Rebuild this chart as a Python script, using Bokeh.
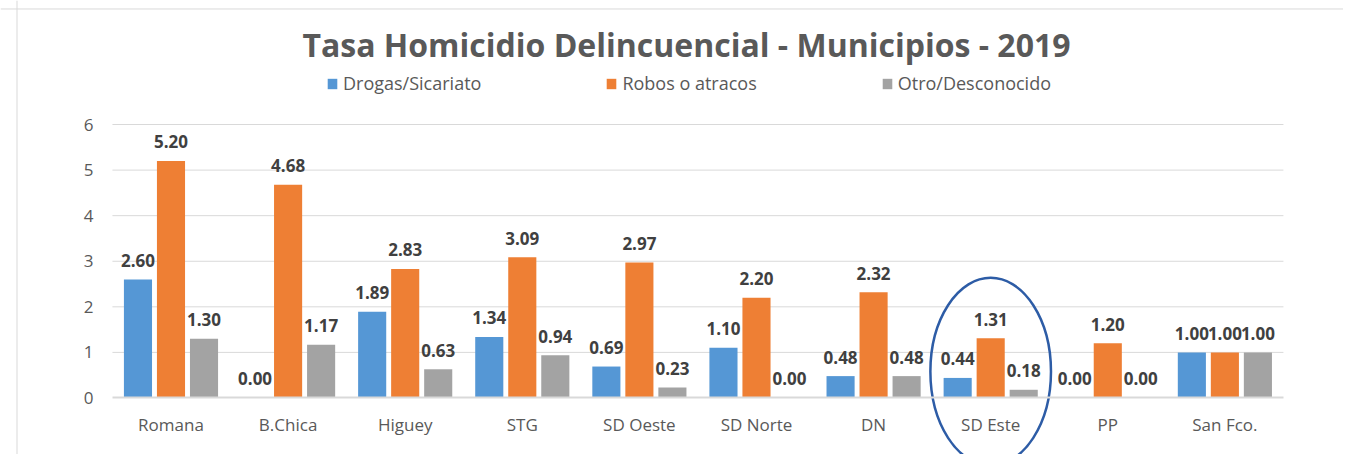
from bokeh.plotting import figure
from bokeh.models import (ColumnDataSource, LinearAxis, FixedTicker, Range1d, Legend,
                          LegendItem, Label, Span)
from bokeh.transform import dodge
from bokeh.core.properties import value
from bokeh.embed import file_html
from bokeh.resources import INLINE

# ---- data ----
municipios = ["Romana", "B.Chica", "Higuey", "STG", "SD Oeste", "SD Norte", "DN", "SD Este", "PP", "San Fco."]
drogas = [2.60, 0.00, 1.89, 1.34, 0.69, 1.10, 0.48, 0.44, 0.00, 1.00]
robos = [5.20, 4.68, 2.83, 3.09, 2.97, 2.20, 2.32, 1.31, 1.20, 1.00]
otro = [1.30, 1.17, 0.63, 0.94, 0.23, 0.00, 0.48, 0.18, 0.00, 1.00]
series_names = ["Drogas/Sicariato", "Robos o atracos", "Otro/Desconocido"]
y_ticks = [0, 1, 2, 3, 4, 5, 6]
title_text = "Tasa Homicidio Delincuencial - Municipios - 2019"
highlight = "SD Este"

FONT = "Open Sans"
TXT = "#595959"
colors = ["#5597d5", "#ee7f34", "#a3a3a3"]

xs = list(range(len(municipios)))
src = ColumnDataSource(dict(
    x=xs,
    drogas=drogas, robos=robos, otro=otro,
    drogas_lbl=["%.2f" % v for v in drogas],
    robos_lbl=["%.2f" % v for v in robos],
    otro_lbl=["%.2f" % v for v in otro],
))

W, H = 1343, 454
p = figure(width=W, height=H, output_backend="svg", toolbar_location=None,
           x_range=Range1d(-1.456, 10.013), y_range=Range1d(-1.240, 8.721),
           x_axis_type=None, y_axis_type=None,
           min_border_left=0, min_border_right=0, min_border_top=0, min_border_bottom=0)
p.outline_line_color = None
p.background_fill_color = "white"
p.border_fill_color = "white"
p.xgrid.visible = False
p.ygrid.visible = False

# chart-box border (left and top)
p.add_layout(Span(location=-1.315, dimension="height", line_color="#d9d9d9", line_width=1))
p.add_layout(Span(location=8.535, dimension="width", line_color="#d9d9d9", line_width=1))

# gridlines across the plot area
p.segment(x0=[-0.5] * (len(y_ticks) - 1), x1=[len(municipios) - 0.5] * (len(y_ticks) - 1),
          y0=y_ticks[1:], y1=y_ticks[1:], line_color="#d9d9d9", line_width=1)

# axes
yaxis = LinearAxis(ticker=FixedTicker(ticks=y_ticks), fixed_location=-0.5)
yaxis.axis_line_color = None
yaxis.major_tick_line_color = None
yaxis.minor_tick_line_color = None
yaxis.major_tick_out = 0
yaxis.minor_tick_out = 0
yaxis.major_label_text_font = FONT
yaxis.major_label_text_font_size = "17px"
yaxis.major_label_text_color = TXT
yaxis.major_label_standoff = 19
p.add_layout(yaxis, "left")

xaxis = LinearAxis(ticker=FixedTicker(ticks=xs), fixed_location=0,
                   bounds=(-0.5, len(municipios) - 0.5))
xaxis.major_label_overrides = {i: m for i, m in enumerate(municipios)}
xaxis.axis_line_color = "#d9d9d9"
xaxis.axis_line_width = 2
xaxis.major_tick_line_color = None
xaxis.minor_tick_line_color = None
xaxis.major_tick_out = 0
xaxis.minor_tick_out = 0
xaxis.major_label_text_font = FONT
xaxis.major_label_text_font_size = "17px"
xaxis.major_label_text_color = TXT
xaxis.major_label_standoff = 15
p.add_layout(xaxis, "below")

# bars
offs = [-0.282, 0.0, 0.282]
fields = ["drogas", "robos", "otro"]
items = []
for f, o, c, name in zip(fields, offs, colors, series_names):
    r = p.vbar(x=dodge("x", o, range=p.x_range), top=f, width=0.24, bottom=0,
               source=src, fill_color=c, line_color=None)
    items.append(LegendItem(label=name, renderers=[r]))
    p.text(x=dodge("x", o, range=p.x_range), y=f, text=f + "_lbl", source=src,
           text_align="center", text_baseline="alphabetic", y_offset=-19,
           text_font=value(FONT), text_font_size="17px", text_font_style="bold",
           text_color="#404040")

# highlight ellipse
p.ellipse(x=municipios.index(highlight), y=0.58, width=1.03, height=4.12,
          fill_color=None, line_color="#2d5ca6", line_width=2.5)

# legend
legend = Legend(items=items, orientation="horizontal", location=(326, 359),
                padding=0, spacing=124, glyph_width=12, glyph_height=13,
                label_height=13, label_standoff=5,
                label_text_font=FONT, label_text_font_size="18px",
                label_text_color=TXT, label_text_baseline="middle",
                border_line_color=None, background_fill_alpha=0)
p.add_layout(legend, "center")

# title
p.add_layout(Label(x=4.402, y=7.755, text=title_text, text_align="center",
                   text_baseline="alphabetic", text_font=FONT, text_font_size="32px",
                   text_font_style="bold", text_color=TXT))

open("out.html", "w").write(file_html(p, INLINE))
